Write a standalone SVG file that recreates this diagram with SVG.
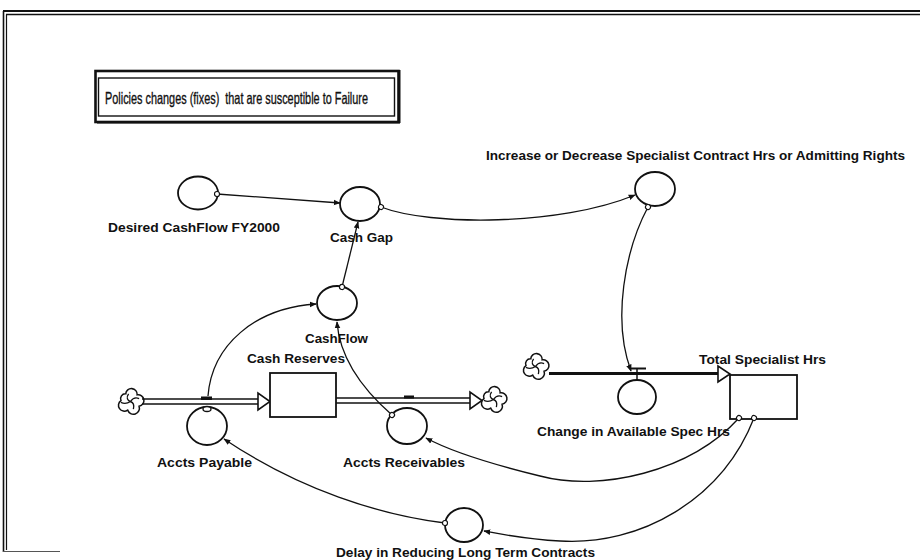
<svg xmlns="http://www.w3.org/2000/svg" width="920" height="560" viewBox="0 0 920 560">
<defs>
<style>
.lbl{font-family:"Liberation Sans",Arial,sans-serif;font-weight:bold;font-size:12.5px;fill:#111}
.aux{fill:#fff;stroke:#111;stroke-width:1.8}
.link{fill:none;stroke:#111;stroke-width:1.3}
.pipe{stroke:#111;stroke-width:1.3}
.cloud{fill:#fff;stroke:#111;stroke-width:1.6}
.head{fill:#fff;stroke:#111;stroke-width:1.6;stroke-linejoin:miter}
</style>
<marker id="arr" viewBox="0 0 10 10" refX="9" refY="5" markerWidth="7" markerHeight="7" orient="auto" markerUnits="userSpaceOnUse">
<path d="M0,1 L10,5 L0,9 z" fill="#111"/>
</marker>
<marker id="ring" viewBox="0 0 10 10" refX="5" refY="5" markerWidth="7" markerHeight="7" orient="auto" markerUnits="userSpaceOnUse">
<circle cx="5" cy="5" r="3.6" fill="#fff" stroke="#111" stroke-width="1.6"/>
</marker>
<symbol id="cld" viewBox="-13 -11 26 22" overflow="visible">
<path class="cloud" d="M-5,-8 A6,6 0 0 1 7,-7 A5.5,5.5 0 0 1 9,5 A6,6 0 0 1 -3,9 A5.5,5.5 0 0 1 -10,-1 A5,5 0 0 1 -5,-8 Z"/>
<path d="M-2,-8 C-5,-4 -3,-1 0,0 M9,-3 C5,-5 2,-3 0,0 M3,8 C4,4 3,1 0,0 M-10,1 C-6,3 -3,2 0,0" fill="none" stroke="#111" stroke-width="1.4"/>
</symbol>
</defs>
<rect width="920" height="560" fill="#fff"/>

<g id="frame" fill="none" stroke="#111">
<line x1="3" y1="11" x2="920" y2="11" stroke-width="2"/>
<line x1="6" y1="14.5" x2="920" y2="14.5" stroke-width="1.4"/>
<line x1="3.5" y1="11" x2="3.5" y2="552" stroke-width="1.6"/>
<line x1="6.5" y1="14.5" x2="6.5" y2="550" stroke-width="1.2"/>
<line x1="3" y1="551.5" x2="60" y2="551.5" stroke-width="1" stroke="#555"/>
</g>

<g id="title">
<rect x="95.5" y="71" width="303" height="51" fill="none" stroke="#111" stroke-width="2.6"/>
<line x1="97" y1="122.5" x2="400" y2="122.5" stroke="#111" stroke-width="2"/>
<line x1="399.5" y1="70" x2="399.5" y2="123" stroke="#111" stroke-width="2"/>
<rect x="98.5" y="78" width="296" height="38" fill="#fff" stroke="#111" stroke-width="1.4"/>
<text x="105" y="103.5" xml:space="preserve" font-family="'Liberation Sans Narrow','Liberation Sans',Arial,sans-serif" font-size="16.5" fill="#111" stroke="#111" stroke-width="0.35" textLength="263" lengthAdjust="spacingAndGlyphs">Policies changes (fixes)  that are susceptible to Failure</text>
</g>

<g id="flows">
<use href="#cld" x="118" y="391" width="25" height="21"/>
<line class="pipe" x1="142" y1="399" x2="259" y2="399"/>
<line class="pipe" x1="142" y1="404" x2="259" y2="404"/>
<polygon class="head" points="258,393 258,410 270,401.5"/>
<rect x="201" y="396.5" width="11" height="3.5" fill="#111"/>

<line class="pipe" x1="336" y1="398" x2="471" y2="398"/>
<line class="pipe" x1="336" y1="403" x2="471" y2="403"/>
<polygon class="head" points="470,392 470,409 482,400.5"/>
<rect x="404" y="395.5" width="10" height="3" fill="#111"/>
<use href="#cld" x="481" y="389" width="25" height="21"/>

<use href="#cld" x="523" y="356" width="25" height="21"/>
<line x1="549" y1="373.5" x2="719" y2="373.5" stroke="#111" stroke-width="3"/>
<polygon class="head" points="718,366 718,382 730,374"/>
<line x1="630" y1="368.5" x2="646" y2="368.5" stroke="#111" stroke-width="2"/>
<line x1="637" y1="368" x2="637" y2="380" stroke="#111" stroke-width="1.5"/>
</g>

<g id="desired-cashflow">
<ellipse class="aux" cx="198" cy="193" rx="20" ry="16.5"/>
<text class="lbl" x="108" y="232" font-size="13" textLength="172" lengthAdjust="spacingAndGlyphs">Desired CashFlow FY2000</text>
</g>
<g id="cash-gap">
<ellipse class="aux" cx="360" cy="204" rx="20" ry="17"/>
<text class="lbl" x="330" y="242" textLength="63" lengthAdjust="spacingAndGlyphs">Cash Gap</text>
</g>
<g id="cashflow">
<ellipse class="aux" cx="337" cy="303" rx="20" ry="17"/>
<text class="lbl" x="305" y="343" textLength="63" lengthAdjust="spacingAndGlyphs">CashFlow</text>
</g>
<g id="cash-reserves">
<rect x="270" y="373" width="66" height="44" fill="#fff" stroke="#111" stroke-width="1.8"/>
<text class="lbl" x="247" y="363" textLength="98" lengthAdjust="spacingAndGlyphs">Cash Reserves</text>
</g>
<g id="accts-payable">
<ellipse class="aux" cx="207" cy="426" rx="20" ry="19"/>
<ellipse cx="207" cy="409" rx="4" ry="2.5" fill="#fff" stroke="#111" stroke-width="1.3"/>
<text class="lbl" x="157" y="467" textLength="95" lengthAdjust="spacingAndGlyphs">Accts Payable</text>
</g>
<g id="accts-receivables">
<ellipse class="aux" cx="407" cy="426" rx="20" ry="18"/>
<text class="lbl" x="343" y="467" textLength="122" lengthAdjust="spacingAndGlyphs">Accts Receivables</text>
</g>
<g id="delay">
<ellipse class="aux" cx="464" cy="525" rx="19" ry="17"/>
<text class="lbl" x="336" y="557" font-size="12" textLength="259" lengthAdjust="spacingAndGlyphs">Delay in Reducing Long Term Contracts</text>
</g>
<g id="increase-decrease">
<ellipse class="aux" cx="655" cy="189" rx="20" ry="17"/>
<text class="lbl" x="486" y="160" font-size="11" textLength="419" lengthAdjust="spacingAndGlyphs">Increase or Decrease Specialist Contract Hrs or Admitting Rights</text>
</g>
<g id="change-spec-hrs">
<ellipse class="aux" cx="637" cy="397" rx="19" ry="17"/>
<text class="lbl" x="537" y="436" textLength="193" lengthAdjust="spacingAndGlyphs">Change in Available Spec Hrs</text>
</g>
<g id="total-specialist-hrs">
<rect x="730" y="375" width="67" height="44" fill="#fff" stroke="#111" stroke-width="1.8"/>
<text class="lbl" x="699" y="364" textLength="127" lengthAdjust="spacingAndGlyphs">Total Specialist Hrs</text>
</g>

<g id="connectors">
<path class="link" d="M217,194 L340,203" marker-start="url(#ring)" marker-end="url(#arr)"/>
<path class="link" d="M342,287 L358,222" marker-start="url(#ring)" marker-end="url(#arr)"/>
<path class="link" d="M381,207 C430,226 560,226 635,195" marker-start="url(#ring)" marker-end="url(#arr)"/>
<path class="link" d="M648,207 C625,250 612,320 631,371" marker-start="url(#ring)" marker-end="url(#arr)"/>
<path class="link" d="M208,396 C212,345 255,308 316,304" marker-end="url(#arr)"/>
<path class="link" d="M392,415 C368,394 340,362 337,322" marker-start="url(#ring)" marker-end="url(#arr)"/>
<path class="link" d="M739,418 C690,472 600,492 540,476 C495,465 452,452 426,438" marker-start="url(#ring)" marker-end="url(#arr)"/>
<path class="link" d="M754,418 C722,500 640,546 560,541 C525,539 505,535 484,531" marker-start="url(#ring)" marker-end="url(#arr)"/>
<path class="link" d="M445,523 C380,515 300,490 224,439" marker-start="url(#ring)" marker-end="url(#arr)"/>
</g>
</svg>
